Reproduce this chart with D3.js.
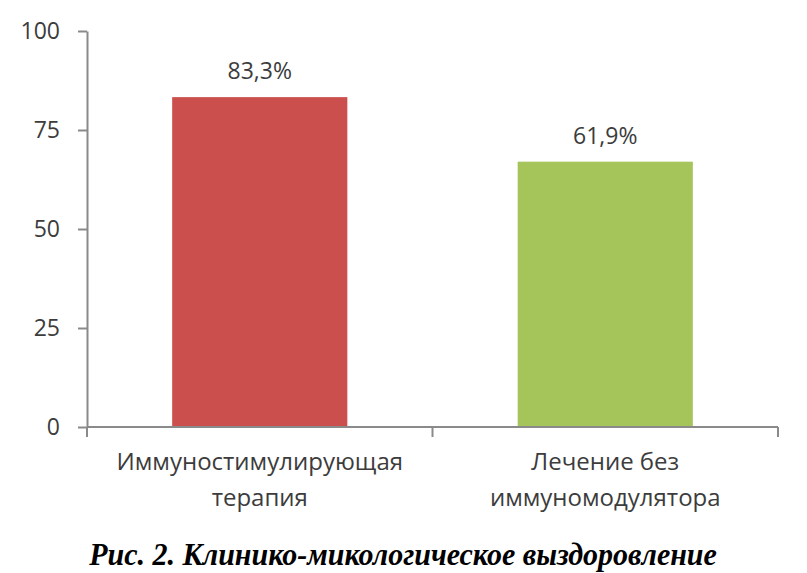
<!DOCTYPE html>
<html><head><meta charset="utf-8">
<script src="https://cdn.jsdelivr.net/npm/d3@7"></script>
<style>body{margin:0;background:#fff}</style>
</head><body>
<svg id="c" width="807" height="573"></svg>
<script>
const categories = [["Иммуностимулирующая","терапия"],["Лечение без","иммуномодулятора"]];
const values = [83.3, 67];
const valueLabels = ["83,3%", "61,9%"];
const colors = ["#CB4F4C", "#A5C55A"];
const yTicks = [0, 25, 50, 75, 100];
const caption = "Рис. 2. Клинико-микологическое выздоровление";

(function(){
const svg = d3.select("#c");
const mLeft = 87, mRight = 778, mTop = 31, mBottom = 427;
const x = d3.scaleBand().domain(d3.range(values.length)).range([mLeft, mRight]).paddingInner(0.493).paddingOuter(0.2465);
const y = d3.scaleLinear().domain([0, 100]).range([mBottom, mTop]);

const font = "'Open Sans', 'Noto Sans', sans-serif";
const axisColor = "#8a8a8a";
const textColor = "#3c3c3c";

// y axis
const ya = svg.append("g").attr("transform", `translate(${mLeft},0)`)
  .call(d3.axisLeft(y).tickValues(yTicks).tickSize(9).tickPadding(18).tickSizeOuter(0));
ya.select(".domain").attr("stroke", axisColor).attr("stroke-width", 2);
ya.selectAll(".tick line").attr("stroke", axisColor).attr("stroke-width", 2);
ya.selectAll(".tick text").attr("fill", textColor).style("font-family", font).style("font-size", "23px");

// bars
svg.selectAll("rect.bar").data(values).join("rect").attr("class","bar")
  .attr("x", (d,i) => x(i)).attr("width", x.bandwidth())
  .attr("y", d => y(d)).attr("height", d => y(0) - y(d))
  .attr("fill", (d,i) => colors[i]);

// x axis line and boundary ticks
svg.append("line").attr("x1", mLeft).attr("x2", mRight).attr("y1", y(0)).attr("y2", y(0))
  .attr("stroke", axisColor).attr("stroke-width", 2);
const bounds = [mLeft, ...d3.range(1, values.length).map(i => x(i) - x.step()*x.paddingInner()/2), mRight];
svg.selectAll("line.xt").data(bounds).join("line").attr("class","xt")
  .attr("x1", d => d).attr("x2", d => d).attr("y1", y(0)).attr("y2", y(0) + 10)
  .attr("stroke", axisColor).attr("stroke-width", 2);

// category labels
const cl = svg.selectAll("text.cat").data(categories).join("text").attr("class","cat")
  .attr("x", (d,i) => x(i) + x.bandwidth()/2).attr("y", 470)
  .attr("text-anchor", "middle").attr("fill", textColor)
  .style("font-family", font).style("font-size", "24px");
cl.selectAll("tspan").data(d => d).join("tspan")
  .attr("x", function(){ return this.parentNode.getAttribute("x"); })
  .attr("dy", (d,i) => i === 0 ? 0 : 36).text(d => d);

// value labels
svg.selectAll("text.val").data(values).join("text").attr("class","val")
  .attr("x", (d,i) => x(i) + x.bandwidth()/2).attr("y", d => y(d) - 18)
  .attr("text-anchor", "middle").attr("fill", textColor)
  .style("font-family", font).style("font-size", "23px")
  .text((d,i) => valueLabels[i]);

// caption
svg.append("text").attr("transform", "translate(403,565) scale(1,1.05)").attr("text-anchor", "middle")
  .attr("fill", "#000").style("font-family", "'Liberation Serif', 'DejaVu Serif', serif")
  .style("font-weight", "bold").style("font-style", "italic").style("font-size", "30px")
  .text(caption);
})();
</script>
</body></html>
